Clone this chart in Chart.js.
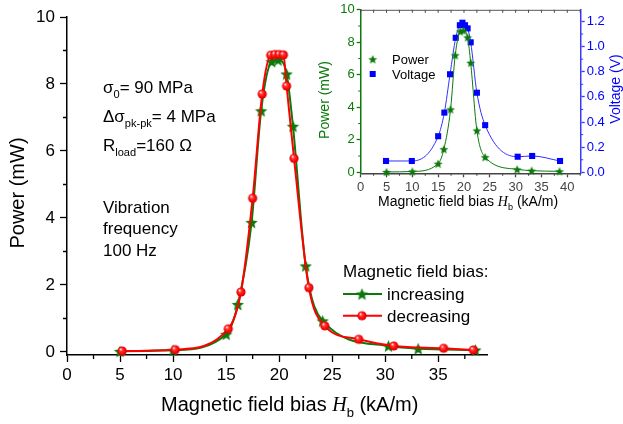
<!DOCTYPE html>
<html>
<head>
<meta charset="utf-8">
<script src="https://cdn.jsdelivr.net/npm/chart.js@4.4.1/dist/chart.umd.min.js"></script>
<style>
html, body { margin: 0; padding: 0; background: #fff; }
#wrap { position: relative; width: 623px; height: 424px; }
#main { position: absolute; left: 0; top: 0; }
#inset { position: absolute; left: 312px; top: 0; }
</style>
</head>
<body>
<div id="wrap">
<canvas id="main" width="623" height="424"></canvas>
<canvas id="inset" width="311" height="212"></canvas>
</div>
<script>
// field bias increasing (green stars) - power in mW
var incX = [5.0, 10.0, 15.0, 16.1, 17.4, 18.3, 19.3, 19.9, 20.7, 21.3, 22.5, 24.1, 30.3, 33.1, 38.5];
var incP = [0.02, 0.05, 0.53, 1.42, 3.87, 7.2, 8.67, 8.72, 8.3, 6.74, 2.57, 0.93, 0.18, 0.1, 0.06];

// field bias decreasing (red spheres) - power in mW
var decX = [5.2, 10.2, 15.2, 16.4, 17.5, 18.4, 19.2, 19.6, 20.0, 20.4, 20.7, 21.4, 22.8, 24.3, 27.5, 30.8, 35.5, 38.3];
var decP = [0.03, 0.07, 0.69, 1.79, 4.59, 7.7, 8.86, 8.88, 8.88, 8.87, 7.94, 5.78, 1.92, 0.78, 0.38, 0.18, 0.11, 0.06];

// inset voltage (blue squares) in V
var voltX = [4.9, 9.9, 15.0, 16.2, 17.3, 18.4, 19.2, 19.7, 20.2, 20.7, 21.3, 22.5, 24.1, 30.4, 33.2, 38.6];
var voltV = [0.09, 0.09, 0.287, 0.475, 0.78, 1.07, 1.17, 1.19, 1.17, 1.145, 1.034, 0.633, 0.375, 0.124, 0.13, 0.09];

// tick values
var mainXTicks = [0, 5, 10, 15, 20, 25, 30, 35];
var mainXMinor = [2.5, 7.5, 12.5, 17.5, 22.5, 27.5, 32.5, 37.5];
var mainYTicks = [0, 2, 4, 6, 8, 10];
var mainYMinor = [1, 3, 5, 7, 9];
var insXTicks = [0, 5, 10, 15, 20, 25, 30, 35, 40];
var insXMinor = [2.5, 7.5, 12.5, 17.5, 22.5, 27.5, 32.5, 37.5, 42.5];
var insPTicks = [0, 2, 4, 6, 8, 10];
var insPMinor = [1, 3, 5, 7, 9];
var insVTicks = [0, 0.2, 0.4, 0.6, 0.8, 1.0, 1.2];
var insVMinor = [0.1, 0.3, 0.5, 0.7, 0.9, 1.1];

var FONT = '"Liberation Sans", Arial, sans-serif';
var GREEN = '#0b7a0b';
var RED = '#ff0000';
var BLUE = '#0000ff';

function pts(xs, ys) {
    return xs.map(function (x, i) { return { x: x, y: ys[i] }; });
}
function tickList(arr) {
    return function (s) { s.ticks = arr.map(function (v) { return { value: v }; }); };
}

function starImg(R, fill) {
    var c = document.createElement('canvas');
    var s = Math.ceil(2 * R + 2);
    c.width = c.height = s;
    var g = c.getContext('2d');
    g.translate(s / 2, s / 2 + R * 0.1);
    g.beginPath();
    for (var k = 0; k < 10; k++) {
        var r = k % 2 ? R * 0.45 : R;
        var a = -Math.PI / 2 + k * Math.PI / 5;
        g.lineTo(r * Math.cos(a), r * Math.sin(a));
    }
    g.closePath();
    g.fillStyle = fill;
    g.fill();
    return c;
}
function sphereImg(R) {
    var c = document.createElement('canvas');
    var s = Math.ceil(2 * R + 2);
    c.width = c.height = s;
    var g = c.getContext('2d');
    var cx = s / 2, cy = s / 2;
    var grad = g.createRadialGradient(cx - R * 0.35, cy - R * 0.4, 0.3, cx, cy, R);
    grad.addColorStop(0, '#fff4f4');
    grad.addColorStop(0.3, '#ff3a3a');
    grad.addColorStop(0.75, '#ff0000');
    grad.addColorStop(1, '#c80000');
    g.beginPath();
    g.arc(cx, cy, R, 0, Math.PI * 2);
    g.fillStyle = grad;
    g.fill();
    return c;
}

var starBig = starImg(6.5, GREEN);
var sphere = sphereImg(4.6);
var starSmall = starImg(4.7, GREEN);

function rich(ctx, x, y, parts, size) {
    parts.forEach(function (p) {
        var sub = p[1] === 's';
        var sz = sub ? size * 0.65 : size;
        var fam = FONT, st = '';
        if (p[1] === 'I') { st = 'italic '; fam = '"Liberation Serif", "Times New Roman", serif'; }
        ctx.font = st + sz + 'px ' + fam;
        ctx.fillText(p[0], x, y + (sub ? size * 0.3 : 0));
        x += ctx.measureText(p[0]).width;
    });
}

function minorTicks(specs) {
    return {
        id: 'minorTicks',
        afterDraw: function (chart) {
            var ctx = chart.ctx, a = chart.chartArea;
            ctx.save();
            specs.forEach(function (sp) {
                var sc = chart.scales[sp.scale];
                ctx.strokeStyle = sp.color;
                ctx.lineWidth = sp.width;
                ctx.beginPath();
                sp.values.forEach(function (v) {
                    var p = sc.getPixelForValue(v);
                    if (sp.side === 'bottom') { ctx.moveTo(p, a.bottom); ctx.lineTo(p, a.bottom + sp.len); }
                    if (sp.side === 'top') { ctx.moveTo(p, a.top); ctx.lineTo(p, a.top + sp.len); }
                    if (sp.side === 'left') { ctx.moveTo(a.left, p); ctx.lineTo(a.left - sp.len, p); }
                    if (sp.side === 'right') { ctx.moveTo(a.right, p); ctx.lineTo(a.right + sp.len, p); }
                });
                ctx.stroke();
            });
            ctx.restore();
        }
    };
}

var mainText = {
    id: 'mainText',
    afterDraw: function (chart) {
        var ctx = chart.ctx;
        ctx.save();
        ctx.fillStyle = '#000';
        ctx.textBaseline = 'alphabetic';
        ctx.textAlign = 'left';
        rich(ctx, 103, 93, [['σ', 'n'], ['0', 's'], ['= 90 MPa', 'n']], 17);
        rich(ctx, 103, 121.5, [['Δσ', 'n'], ['pk-pk', 's'], ['= 4 MPa', 'n']], 17);
        rich(ctx, 103, 151, [['R', 'n'], ['load', 's'], ['=160 Ω', 'n']], 17);
        rich(ctx, 103, 212.5, [['Vibration', 'n']], 17);
        rich(ctx, 103, 234, [['frequency', 'n']], 17);
        rich(ctx, 103, 255.5, [['100 Hz', 'n']], 17);

        // legend
        rich(ctx, 343, 277, [['Magnetic field bias:', 'n']], 17);
        ctx.lineWidth = 2;
        ctx.strokeStyle = GREEN;
        ctx.beginPath(); ctx.moveTo(343, 294); ctx.lineTo(382, 294); ctx.stroke();
        ctx.drawImage(starBig, 362 - starBig.width / 2, 294 - starBig.height / 2);
        ctx.strokeStyle = RED;
        ctx.beginPath(); ctx.moveTo(343, 315.7); ctx.lineTo(382, 315.7); ctx.stroke();
        ctx.drawImage(sphere, 362 - sphere.width / 2, 315.7 - sphere.height / 2);
        rich(ctx, 387, 300, [['increasing', 'n']], 17);
        rich(ctx, 387, 321.5, [['decreasing', 'n']], 17);

        // axis titles
        rich(ctx, 161, 411, [['Magnetic field bias ', 'n'], ['H', 'I'], ['b', 's'], [' (kA/m)', 'n']], 20);
        ctx.save();
        ctx.translate(24, 193);
        ctx.rotate(-Math.PI / 2);
        ctx.textAlign = 'center';
        ctx.font = '20px ' + FONT;
        ctx.fillText('Power (mW)', 0, 0);
        ctx.restore();
        ctx.restore();
    }
};

var insetText = {
    id: 'insetText',
    afterDraw: function (chart) {
        var ctx = chart.ctx, a = chart.chartArea;
        ctx.save();
        // top frame line
        ctx.strokeStyle = '#555';
        ctx.lineWidth = 1;
        ctx.beginPath();
        ctx.moveTo(a.left, a.top + 0.5); ctx.lineTo(a.right, a.top + 0.5);
        ctx.stroke();

        ctx.textAlign = 'left';
        ctx.fillStyle = '#000';
        ctx.drawImage(starSmall, 60.7 - starSmall.width / 2, 59.3 - starSmall.height / 2);
        ctx.fillStyle = BLUE;
        ctx.fillRect(60.7 - 3, 74 - 3, 6, 6);
        ctx.fillStyle = '#000';
        rich(ctx, 80, 64, [['Power', 'n']], 13);
        rich(ctx, 80, 78.5, [['Voltage', 'n']], 13);
        rich(ctx, 66, 206, [['Magnetic field bias ', 'n'], ['H', 'I'], ['b', 's'], [' (kA/m)', 'n']], 14);

        ctx.textAlign = 'center';
        ctx.font = '14px ' + FONT;
        ctx.save();
        ctx.fillStyle = GREEN;
        ctx.translate(17, 100);
        ctx.rotate(-Math.PI / 2);
        ctx.fillText('Power (mW)', 0, 0);
        ctx.restore();
        ctx.save();
        ctx.fillStyle = BLUE;
        ctx.translate(308, 89);
        ctx.rotate(-Math.PI / 2);
        ctx.fillText('Voltage (V)', 0, 0);
        ctx.restore();
        ctx.restore();
    }
};

function axisStyle(color, size, tickLen, pad) {
    return {
        grid: { drawOnChartArea: false, drawTicks: true, tickLength: tickLen, color: color, tickWidth: 1.3 },
        border: { color: color, width: 1.5 },
        ticks: { font: { size: size, family: FONT }, color: color, padding: pad, maxRotation: 0, autoSkip: false }
    };
}

var mx = axisStyle('#000', 17, 7, 3);
var my = axisStyle('#000', 17, 7, 5);

new Chart(document.getElementById('main').getContext('2d'), {
    type: 'line',
    data: {
        datasets: [{
            label: 'decreasing',
            data: pts(decX, decP),
            borderColor: RED,
            borderWidth: 2,
            pointStyle: sphere,
            pointRadius: 5,
            cubicInterpolationMode: 'monotone',
            order: 0,
            clip: false
        }, {
            label: 'increasing',
            data: pts(incX, incP),
            borderColor: GREEN,
            borderWidth: 2,
            pointStyle: starBig,
            pointRadius: 6,
            cubicInterpolationMode: 'monotone',
            order: 1,
            clip: false
        }]
    },
    options: {
        responsive: false,
        animation: false,
        layout: { padding: { top: 17, right: 136, left: 0, bottom: 0 } },
        plugins: { legend: { display: false }, tooltip: { enabled: false } },
        scales: {
            x: Object.assign({
                type: 'linear', min: 0, max: 39.59,
                afterBuildTicks: tickList(mainXTicks),
                afterFit: function (s) { s.height = 69; }
            }, mx),
            y: Object.assign({
                min: -0.09, max: 10,
                afterBuildTicks: tickList(mainYTicks),
                afterFit: function (s) { s.width = 67; }
            }, my)
        }
    },
    plugins: [minorTicks([
        { scale: 'x', side: 'bottom', values: mainXMinor, len: 4, color: '#000', width: 1.3 },
        { scale: 'y', side: 'left', values: mainYMinor, len: 4, color: '#000', width: 1.3 }
    ]), mainText]
});

var ix = axisStyle('#444', 13, 4, 2);
var ip = axisStyle(GREEN, 13, 4, 2);
var iv = axisStyle('#3a3aff', 13, 4, 2);
iv.ticks.color = BLUE;
iv.ticks.callback = function (v) { return v.toFixed(1); };

new Chart(document.getElementById('inset').getContext('2d'), {
    type: 'line',
    data: {
        datasets: [{
            label: 'Power',
            data: pts(incX, incP),
            yAxisID: 'y',
            borderColor: GREEN,
            borderWidth: 1,
            pointStyle: starSmall,
            pointRadius: 4,
            cubicInterpolationMode: 'monotone',
            order: 0,
            clip: false
        }, {
            label: 'Voltage',
            data: pts(voltX, voltV),
            yAxisID: 'y2',
            borderColor: '#3030ff',
            borderWidth: 1,
            pointStyle: 'rect',
            pointRadius: 4.3,
            pointBackgroundColor: BLUE,
            pointBorderWidth: 0,
            cubicInterpolationMode: 'monotone',
            order: 1,
            clip: false
        }]
    },
    options: {
        responsive: false,
        animation: false,
        layout: { padding: { top: 9, right: 0, left: 0, bottom: 0 } },
        plugins: { legend: { display: false }, tooltip: { enabled: false } },
        scales: {
            x: Object.assign({
                type: 'linear', min: 0, max: 42.6,
                afterBuildTicks: tickList(insXTicks),
                afterFit: function (s) { s.height = 38.7; }
            }, ix),
            y: Object.assign({
                position: 'left', min: -0.061, max: 10,
                afterBuildTicks: tickList(insPTicks),
                afterFit: function (s) { s.width = 48.7; }
            }, ip),
            y2: Object.assign({
                position: 'right', min: -0.0079, max: 1.2927,
                afterBuildTicks: tickList(insVTicks),
                afterFit: function (s) { s.width = 42.3; }
            }, iv)
        }
    },
    plugins: [minorTicks([
        { scale: 'x', side: 'bottom', values: insXMinor, len: 2.5, color: '#444', width: 1 },
        { scale: 'x', side: 'top', values: insXMinor.concat(insXTicks), len: 3, color: '#444', width: 1 },
        { scale: 'y', side: 'left', values: insPMinor, len: 2.5, color: GREEN, width: 1 },
        { scale: 'y2', side: 'right', values: insVMinor, len: 2.5, color: '#3a3aff', width: 1 }
    ]), insetText]
});
</script>
</body>
</html>
